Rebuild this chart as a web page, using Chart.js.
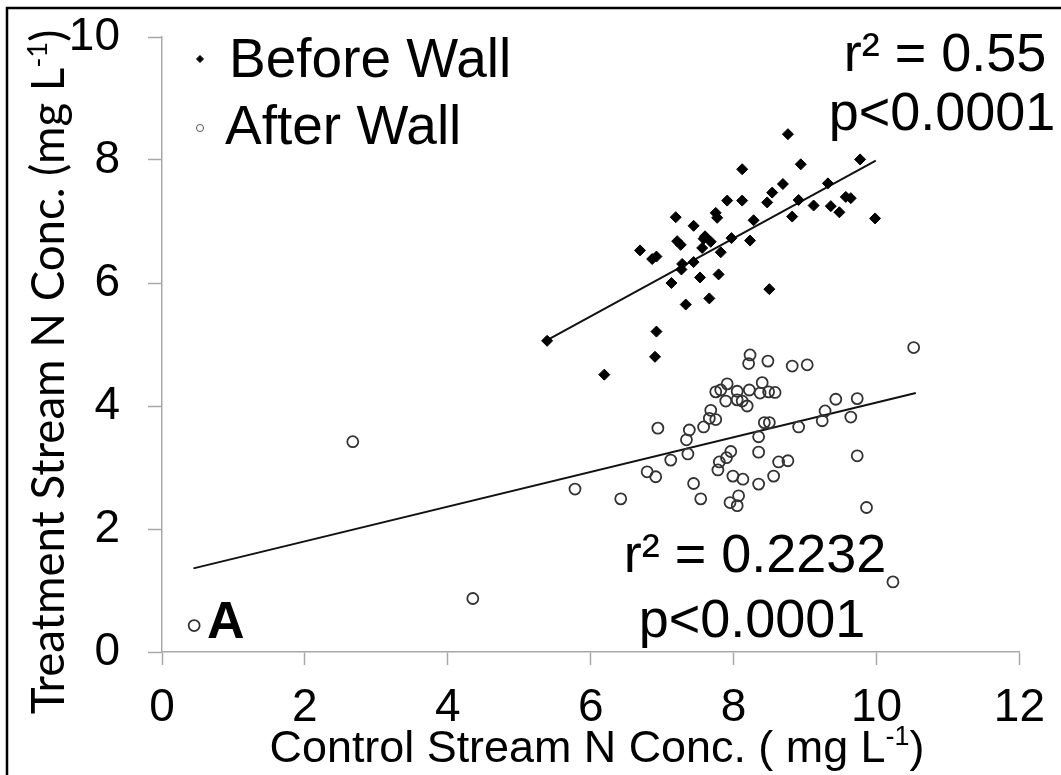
<!DOCTYPE html>
<html>
<head>
<meta charset="utf-8">
<script src="https://cdn.jsdelivr.net/npm/chart.js@4.4.1/dist/chart.umd.min.js"></script>
<style>
  body { margin: 0; background: #fff; }
  #wrap { width: 1061px; height: 775px; position: relative; }
</style>
</head>
<body>
<div id="wrap"><canvas id="scatterChart" width="1061" height="775"></canvas></div>
<script>
// values
const beforeX = [8.76, 8.12, 8.94, 9.77, 8.69, 8.54, 9.32, 7.91, 8.12, 8.47, 8.91, 9.12, 9.36, 9.48, 9.57, 9.64,
  9.98, 8.82, 7.75, 7.77, 7.19, 7.44, 8.28, 7.60, 7.58, 7.68, 7.56, 7.97, 8.23, 7.21, 7.26, 6.69,
  6.86, 6.92, 7.82, 7.28, 7.27, 7.44, 7.13, 7.53, 7.79, 7.33, 7.66, 8.50, 5.39, 6.92, 6.90, 6.19];
const beforeY = [8.42, 7.85, 7.93, 8.01, 7.61, 7.47, 7.62, 7.34, 7.34, 7.31, 7.35, 7.26, 7.25, 7.15, 7.40, 7.38,
  7.05, 7.08, 7.14, 7.06, 7.07, 6.93, 7.02, 6.76, 6.72, 6.67, 6.57, 6.73, 6.69, 6.68, 6.62, 6.53,
  6.39, 6.43, 6.50, 6.31, 6.22, 6.34, 6.00, 6.09, 6.14, 5.65, 5.75, 5.90, 5.06, 5.21, 4.80, 4.51];

const afterX = [10.52, 8.23, 8.21, 8.48, 8.82, 9.03, 7.91, 8.40, 7.75, 7.82, 8.05, 8.22, 8.37, 8.49, 8.58, 7.89,
  8.05, 8.12, 8.19, 7.68, 7.66, 7.75, 7.58, 7.38, 7.34, 6.94, 8.43, 8.50, 8.35, 8.91, 9.24, 9.28,
  9.43, 9.73, 9.64, 9.73, 9.86, 7.36, 7.12, 6.79, 6.91, 5.78, 6.42, 7.44, 7.54, 7.96, 7.90, 7.80,
  7.78, 8.35, 8.63, 8.76, 8.56, 8.35, 7.99, 8.13, 7.95, 8.07, 8.05, 10.23, 2.67, 4.35, 0.45];
const afterY = [4.95, 4.83, 4.69, 4.73, 4.65, 4.67, 4.36, 4.38, 4.23, 4.26, 4.24, 4.26, 4.21, 4.23, 4.22, 4.08,
  4.10, 4.08, 4.00, 3.93, 3.80, 3.78, 3.66, 3.61, 3.45, 3.64, 3.73, 3.73, 3.50, 3.66, 3.76, 3.92,
  4.11, 4.12, 3.82, 3.19, 2.35, 3.22, 3.12, 2.93, 2.85, 2.65, 2.49, 2.74, 2.49, 3.26, 3.16, 3.09,
  2.96, 3.25, 3.09, 3.11, 2.86, 2.73, 2.86, 2.81, 2.43, 2.54, 2.38, 1.14, 3.42, 0.87, 0.43];

// regression lines (end points)
const fitBeforeX = [5.39, 9.99];
const fitBeforeY = [5.07, 7.99];
const fitAfterX = [0.44, 10.55];
const fitAfterY = [1.36, 4.21];

const xTickValues = [0, 2, 4, 6, 8, 10, 12];
const yTickValues = [0, 2, 4, 6, 8, 10];

const seriesNames = ["Before Wall", "After Wall"];
const statsBefore = ["r\u00B2 = 0.55", "p<0.0001"];
const statsAfter = ["r\u00B2 = 0.2232", "p<0.0001"];
const panelLabel = "A";

const arial = "'Liberation Sans', Arial, sans-serif";
const calibriLike = "Lato, 'Open Sans', sans-serif";

function pairs(xs, ys) {
  return xs.map((x, i) => ({ x: x, y: ys[i] }));
}

// draws text pieces, sup pieces smaller and raised
function runsWidth(ctx, runs, size, family) {
  let w = 0;
  runs.forEach((r) => {
    ctx.font = (r.sup ? size * 0.6 : size) + "px " + family;
    w += ctx.measureText(r.t).width;
  });
  return w;
}
function drawRuns(ctx, runs, x, y, size, family) {
  let cx = x;
  runs.forEach((r) => {
    ctx.font = (r.sup ? size * 0.6 : size) + "px " + family;
    ctx.fillText(r.t, cx, r.sup ? y - size * 0.38 : y);
    cx += ctx.measureText(r.t).width;
  });
}

const yTitleRuns = [{ t: "Treatment Stream N Conc. (mg L" }, { t: "-1", sup: true }, { t: ")" }];
const xTitleRuns = [{ t: "Control Stream N Conc. ( mg L" }, { t: "-1", sup: true }, { t: ")" }];

const decorPlugin = {
  id: "decor",
  beforeDraw(chart) {
    const ctx = chart.ctx;
    ctx.save();
    ctx.fillStyle = "#fff";
    ctx.fillRect(0, 0, chart.width, chart.height);
    ctx.restore();
  },
  afterDraw(chart) {
    const ctx = chart.ctx;
    ctx.save();
    ctx.fillStyle = "#000";
    ctx.textBaseline = "alphabetic";

    // axis titles, sized to the reference length
    let w = runsWidth(ctx, xTitleRuns, 45, arial);
    let size = 45 * 655 / w;
    w = runsWidth(ctx, xTitleRuns, size, arial);
    drawRuns(ctx, xTitleRuns, 597 - w / 2, 762, size, arial);

    w = runsWidth(ctx, yTitleRuns, 40, calibriLike);
    size = 40 * 685 / w;
    w = runsWidth(ctx, yTitleRuns, size, calibriLike);
    ctx.save();
    ctx.translate(64, 372);
    ctx.rotate(-Math.PI / 2);
    drawRuns(ctx, yTitleRuns, -w / 2, 0, size, calibriLike);
    ctx.restore();

    // legend
    ctx.font = "55px " + arial;
    ctx.textAlign = "left";
    ctx.fillText(seriesNames[0], 229, 77);
    ctx.fillText(seriesNames[1], 225, 144);
    Chart.helpers.drawPoint(ctx, { pointStyle: "rectRot", radius: 3.5, borderWidth: 1 }, 200, 59);
    ctx.strokeStyle = "#555";
    ctx.fillStyle = "#fff";
    Chart.helpers.drawPoint(ctx, { pointStyle: "circle", radius: 3.5, borderWidth: 1.2 }, 200, 128);

    // stats
    ctx.fillStyle = "#000";
    ctx.font = "54px " + arial;
    ctx.textAlign = "center";
    ctx.fillText(statsBefore[0], 945, 71);
    ctx.fillText(statsBefore[1], 942, 130);
    ctx.fillText(statsAfter[0], 755, 572);
    ctx.fillText(statsAfter[1], 752, 637);

    ctx.font = "bold 52px " + arial;
    ctx.textAlign = "left";
    ctx.fillText(panelLabel, 207, 638);

    // frame
    ctx.strokeStyle = "#000";
    ctx.lineWidth = 2.5;
    ctx.strokeRect(7, 8, 1060, 775);
    ctx.restore();
  },
};

const ctx = document.getElementById("scatterChart");
new Chart(ctx, {
  type: "scatter",
  data: {
    datasets: [
      {
        label: seriesNames[0],
        data: pairs(beforeX, beforeY),
        pointStyle: "rectRot",
        pointRadius: 5.5,
        backgroundColor: "#000",
        borderColor: "#000",
        borderWidth: 1,
      },
      {
        label: seriesNames[1],
        data: pairs(afterX, afterY),
        pointStyle: "circle",
        pointRadius: 5.5,
        backgroundColor: "rgba(255,255,255,0)",
        borderColor: "#333",
        borderWidth: 1.8,
      },
      {
        type: "line",
        label: "fit before",
        data: pairs(fitBeforeX, fitBeforeY),
        borderColor: "#111",
        borderWidth: 2,
        pointRadius: 0,
        fill: false,
      },
      {
        type: "line",
        label: "fit after",
        data: pairs(fitAfterX, fitAfterY),
        borderColor: "#111",
        borderWidth: 2,
        pointRadius: 0,
        fill: false,
      },
    ],
  },
  options: {
    responsive: false,
    animation: false,
    layout: { padding: { top: 37, right: 28, left: 0, bottom: 0 } },
    plugins: {
      legend: { display: false },
      tooltip: { enabled: false },
    },
    scales: {
      x: {
        type: "linear",
        min: 0,
        max: 12,
        afterBuildTicks: (scale) => { scale.ticks = xTickValues.map((v) => ({ value: v })); },
        afterFit: (scale) => { scale.height = 123; },
        ticks: { font: { size: 46, family: arial }, color: "#000", padding: 16 },
        grid: { drawOnChartArea: false, tickLength: 13, tickColor: "#a8a8a8", tickWidth: 1.5 },
        border: { color: "#a8a8a8", width: 1.5 },
      },
      y: {
        type: "linear",
        min: 0,
        max: 10,
        afterBuildTicks: (scale) => { scale.ticks = yTickValues.map((v) => ({ value: v })); },
        afterFit: (scale) => { scale.width = 162; scale.paddingTop = 0; },
        ticks: { font: { size: 46, family: arial, lineHeight: 0.8 }, color: "#000", padding: 28 },
        grid: { drawOnChartArea: false, tickLength: 14, tickColor: "#a8a8a8", tickWidth: 1.5 },
        border: { color: "#a8a8a8", width: 1.5 },
      },
    },
  },
  plugins: [decorPlugin],
});
</script>
</body>
</html>
